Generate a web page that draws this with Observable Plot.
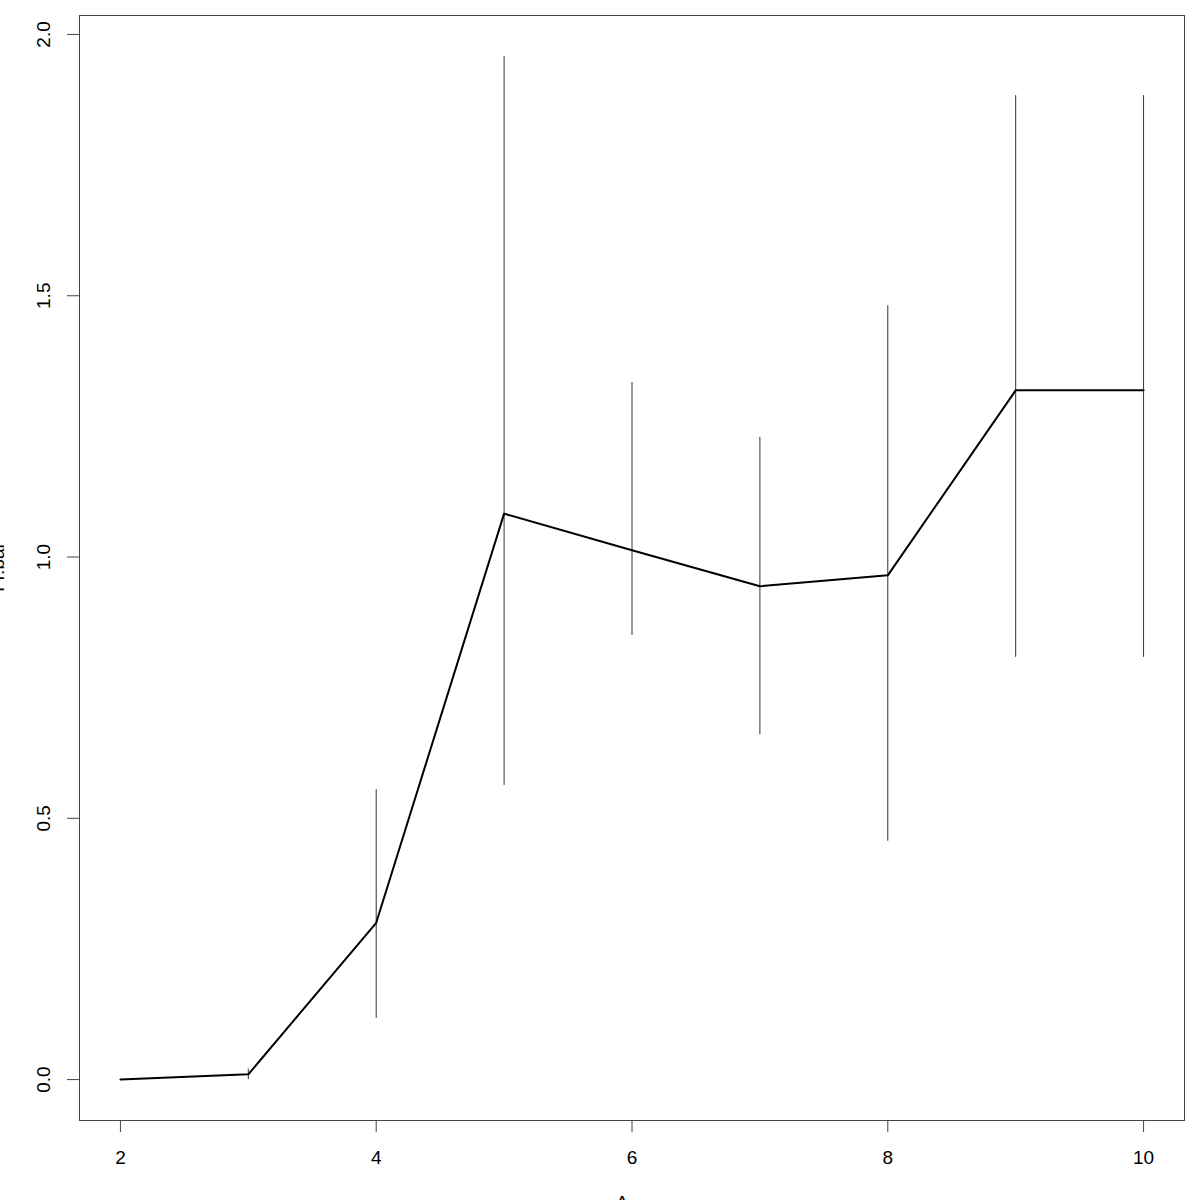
<!DOCTYPE html>
<html>
<head>
<meta charset="utf-8">
<script src="https://cdn.jsdelivr.net/npm/d3@7"></script>
<script src="https://cdn.jsdelivr.net/npm/@observablehq/plot@0.6"></script>
<style>
  html, body { margin: 0; padding: 0; background: #fff; overflow: hidden; }
  #chart svg { display: block; }
</style>
</head>
<body>
<div id="chart"></div>
<script>
const xs    = [2, 3, 4, 5, 6, 7, 8, 9, 10];
const means = [0.0, 0.01, 0.30, 1.083, 1.013, 0.944, 0.965, 1.319, 1.319];
const lows  = [0.0, 0.0, 0.117, 0.563, 0.850, 0.660, 0.456, 0.808, 0.808];
const highs = [0.0, 0.02, 0.555, 1.958, 1.334, 1.229, 1.481, 1.883, 1.883];
const xTicks = [2, 4, 6, 8, 10];
const yTicks = [0.0, 0.5, 1.0, 1.5, 2.0];
const xLabel = "A";
const yLabel = "Fr.bal";

const data = xs.map((x, i) => ({x, mean: means[i], lo: lows[i], hi: highs[i]}));
const bars = data.filter(d => d.hi > d.lo);

const font = "'Liberation Sans', Arial, Helvetica, sans-serif";
const fs = 19;

const chart = Plot.plot({
  width: 1200,
  height: 1200,
  marginLeft: 79,
  marginRight: 16,
  marginTop: 15,
  marginBottom: 80,
  style: {fontFamily: font, fontSize: fs + "px", background: "#fff", color: "#000"},
  x: {domain: [1.68, 10.32], ticks: xTicks, label: null},
  y: {domain: [-0.0783, 2.0363], ticks: yTicks, label: null},
  marks: [
    Plot.frame({stroke: "#444", strokeWidth: 1}),
    Plot.axisX({ticks: xTicks, tickSize: 12, tickPadding: 18, tickFormat: d => String(d), stroke: "#444", fill: "#000", fontSize: fs, label: null}),
    Plot.axisY({ticks: yTicks, tickSize: 12, tickFormat: () => "", stroke: "#444", label: null}),
    Plot.text(yTicks, {y: d => d, text: d => d.toFixed(1), frameAnchor: "left", textAnchor: "middle", dx: -36, rotate: -90, fontSize: fs, fill: "#000"}),
    Plot.ruleX(bars, {x: "x", y1: "lo", y2: "hi", stroke: "#333", strokeWidth: 1}),
    Plot.line(data, {x: "x", y: "mean", stroke: "#000", strokeWidth: 2}),
    Plot.text([xLabel], {text: d => d, frameAnchor: "bottom", dx: -10, dy: 75, lineAnchor: "top", textAnchor: "middle", fontSize: fs, fill: "#000"}),
    Plot.text([yLabel], {text: d => d, frameAnchor: "left", textAnchor: "middle", dx: -82, rotate: -90, fontSize: fs, fill: "#000"})
  ]
});
document.getElementById("chart").appendChild(chart);
</script>
</body>
</html>
